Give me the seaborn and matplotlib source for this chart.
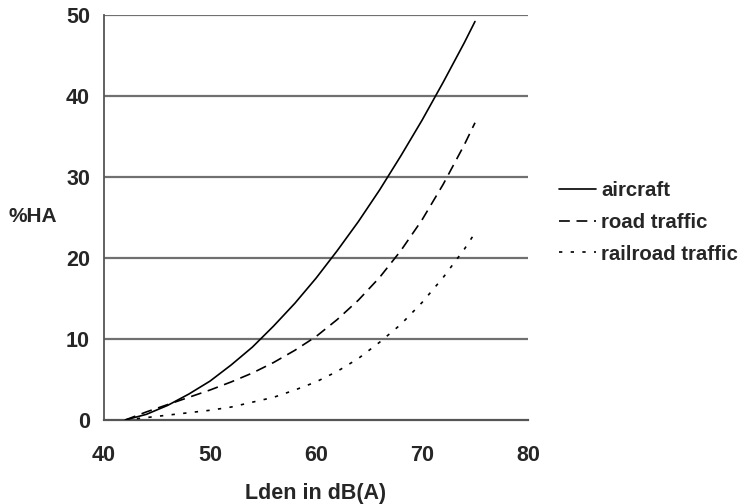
import pandas as pd
import matplotlib.pyplot as plt
import seaborn as sns

# values (Lden in dB(A) vs %HA)
lden = [42, 44, 46, 48, 50, 52, 54, 56, 58, 60, 62, 64, 66, 68, 70, 72, 74, 75]
aircraft = [0.0, 0.7, 1.8, 3.2, 4.8, 6.8, 9.0, 11.6, 14.4, 17.5, 20.9, 24.5, 28.4, 32.6, 37.0, 41.7, 46.6, 49.2]
road = [0.0, 1.0, 1.9, 2.8, 3.7, 4.7, 5.8, 7.1, 8.6, 10.3, 12.4, 14.8, 17.6, 20.9, 24.7, 29.1, 34.0, 36.7]
railroad = [0.0, 0.3, 0.6, 0.9, 1.2, 1.6, 2.2, 2.8, 3.7, 4.7, 6.0, 7.6, 9.6, 11.8, 14.5, 17.6, 21.1, 23.1]

series = ["aircraft", "road traffic", "railroad traffic"]
x_ticks = [40, 50, 60, 70, 80]
y_ticks = [0, 10, 20, 30, 40, 50]

df = pd.DataFrame({
    "Lden": lden * 3,
    "HA": aircraft + road + railroad,
    "source": [s for s in series for _ in lden],
})

sns.set_theme(style="white")
plt.rcParams["font.family"] = ["Liberation Sans", "DejaVu Sans"]
plt.rcParams["font.weight"] = "bold"

fig = plt.figure(figsize=(7.44, 5.04), dpi=100)
ax = fig.add_axes([104 / 744, 1 - 420 / 504, 424 / 744, 405 / 504])

# horizontal grid lines
for yv in y_ticks[1:]:
    ax.axhline(yv, color="#707070", lw=1.6, zorder=1)

styles = {"aircraft": "-", "road traffic": (0, (6.5, 4)), "railroad traffic": (0, (2, 5))}
for s in series:
    sub = df[df["source"] == s]
    sns.lineplot(data=sub, x="Lden", y="HA", ax=ax, color="black", lw=1.2,
                 linestyle=styles[s], label=s, zorder=3)

ax.set_xlim(40, 80)
ax.set_ylim(0, 50)
ax.set_xticks(x_ticks)
ax.set_yticks(y_ticks)
ax.tick_params(axis="both", labelsize=15.5, direction="out", width=1.3,
               color="#555555")
ax.tick_params(axis="y", length=5, pad=5)
ax.tick_params(axis="x", length=4, pad=14)
for lab in ax.get_xticklabels() + ax.get_yticklabels():
    lab.set_fontweight("bold")

for side in ["top", "right"]:
    ax.spines[side].set_visible(False)
ax.spines["left"].set_color("#555555")
ax.spines["left"].set_linewidth(1.3)
ax.spines["bottom"].set_color("#555555")
ax.spines["bottom"].set_linewidth(1.6)

ax.set_xlabel("Lden in dB(A)", fontsize=15.5, fontweight="bold", labelpad=12)
ax.set_ylabel("")
fig.text(33 / 744, 1 - 217 / 504, "%HA", fontsize=15, fontweight="bold",
         ha="center", va="center")

leg = ax.legend(loc="center left", bbox_to_anchor=(1.03, 0.488), frameon=False,
                fontsize=14.7, handlelength=1.8, handletextpad=0.25, labelspacing=0.62)
for t in leg.get_texts():
    t.set_fontweight("bold")

fig.savefig("out.png", dpi=100)
